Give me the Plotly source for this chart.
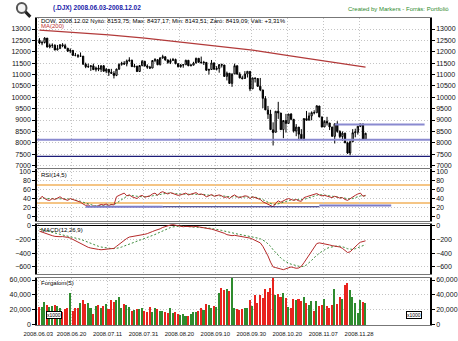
import plotly.graph_objects as go

W, H = 458, 341

# ---- trading days (Dow Jones Industrial Average, daily) ----
dates = [
    "2008.06.03", "2008.06.04", "2008.06.05", "2008.06.06", "2008.06.09", "2008.06.10", "2008.06.11", "2008.06.12",
    "2008.06.13", "2008.06.16", "2008.06.17", "2008.06.18", "2008.06.19", "2008.06.20", "2008.06.23", "2008.06.24",
    "2008.06.25", "2008.06.26", "2008.06.27", "2008.06.30",
    "2008.07.01", "2008.07.02", "2008.07.03", "2008.07.07", "2008.07.08", "2008.07.09", "2008.07.10", "2008.07.11",
    "2008.07.14", "2008.07.15", "2008.07.16", "2008.07.17", "2008.07.18", "2008.07.21", "2008.07.22", "2008.07.23",
    "2008.07.24", "2008.07.25", "2008.07.28", "2008.07.29", "2008.07.30", "2008.07.31",
    "2008.08.01", "2008.08.04", "2008.08.05", "2008.08.06", "2008.08.07", "2008.08.08", "2008.08.11", "2008.08.12",
    "2008.08.13", "2008.08.14", "2008.08.15", "2008.08.18", "2008.08.19", "2008.08.20", "2008.08.21", "2008.08.22",
    "2008.08.25", "2008.08.26", "2008.08.27", "2008.08.28", "2008.08.29",
    "2008.09.02", "2008.09.03", "2008.09.04", "2008.09.05", "2008.09.08", "2008.09.09", "2008.09.10", "2008.09.11",
    "2008.09.12", "2008.09.15", "2008.09.16", "2008.09.17", "2008.09.18", "2008.09.19", "2008.09.22", "2008.09.23",
    "2008.09.24", "2008.09.25", "2008.09.26", "2008.09.29", "2008.09.30",
    "2008.10.01", "2008.10.02", "2008.10.03", "2008.10.06", "2008.10.07", "2008.10.08", "2008.10.09", "2008.10.10",
    "2008.10.13", "2008.10.14", "2008.10.15", "2008.10.16", "2008.10.17", "2008.10.20", "2008.10.21", "2008.10.22",
    "2008.10.23", "2008.10.24", "2008.10.27", "2008.10.28", "2008.10.29", "2008.10.30", "2008.10.31",
    "2008.11.03", "2008.11.04", "2008.11.05", "2008.11.06", "2008.11.07", "2008.11.10", "2008.11.11", "2008.11.12",
    "2008.11.13", "2008.11.14", "2008.11.17", "2008.11.18", "2008.11.19", "2008.11.20", "2008.11.21", "2008.11.24",
    "2008.11.25", "2008.11.26", "2008.11.28",
    "2008.12.01", "2008.12.02",
]

opens = [
    12503, 12390, 12404, 12602, 12210, 12280, 12288, 12084, 12140, 12306,
    12269, 12159, 12029, 12062, 11843, 11842, 11808, 11810, 11452, 11346,
    11350, 11382, 11216, 11289, 11231, 11384, 11147, 11229, 11100, 11055,
    10962, 11239, 11446, 11496, 11467, 11603, 11632, 11349, 11370, 11132,
    11397, 11583, 11378, 11326, 11285, 11615, 11655, 11432, 11734, 11781,
    11642, 11532, 11616, 11659, 11479, 11348, 11417, 11430, 11628, 11387,
    11413, 11503, 11714, 11543, 11516, 11532, 11188, 11221, 11510, 11231,
    11268, 11434, 11420, 10918, 11057, 10609, 11027, 11388, 11015, 10854,
    10825, 11022, 11139, 10371, 10848, 10825, 10483, 10322, 9947, 9438,
    9262, 8568, 8462, 9388, 9310, 8577, 8980, 8852, 9265, 9033,
    8519, 8691, 8376, 8175, 9065, 8991, 9180, 9326, 9320, 9618,
    9139, 8696, 8944, 8870, 8693, 8282, 8831, 8497, 8273, 8424,
    7995, 7551, 8048, 8443, 8464, 8726, 8829, 8153.75,
]
highs = [
    12600, 12490, 12640, 12603, 12360, 12370, 12330, 12300, 12340, 12380,
    12350, 12160, 12150, 12070, 11950, 11900, 11970, 11810, 11520, 11480,
    11400, 11480, 11350, 11420, 11410, 11420, 11290, 11230, 11250, 11150,
    11260, 11490, 11560, 11590, 11660, 11760, 11650, 11470, 11380, 11420,
    11640, 11600, 11450, 11380, 11630, 11720, 11660, 11760, 11870, 11800,
    11660, 11700, 11730, 11700, 11480, 11460, 11460, 11650, 11630, 11460,
    11560, 11740, 11720, 11790, 11600, 11540, 11260, 11640, 11530, 11370,
    11460, 11480, 11420, 11130, 11060, 11050, 11480, 11390, 11100, 10950,
    11150, 11150, 11140, 10860, 10860, 10830, 10850, 10330, 10050, 9620,
    9450, 8900, 9390, 9800, 9310, 8990, 9270, 9270, 9300, 9035,
    8820, 8690, 8600, 9080, 9400, 9330, 9380, 9430, 9650, 9620,
    9140, 8990, 9140, 8870, 8700, 8850, 8950, 8550, 8500, 8440,
    8050, 8100, 8600, 8620, 8740, 8830, 8830, 8437.17,
]
lows = [
    12338, 12290, 12370, 12190, 12150, 12170, 12060, 12060, 12140, 12200,
    12140, 11990, 11940, 11830, 11800, 11730, 11790, 11440, 11280, 11290,
    11160, 11200, 11130, 11150, 11110, 11130, 11060, 10940, 11030, 10828,
    10930, 11200, 11390, 11420, 11360, 11560, 11330, 11310, 11120, 11130,
    11360, 11350, 11250, 11240, 11280, 11540, 11410, 11400, 11690, 11610,
    11470, 11460, 11600, 11450, 11310, 11300, 11300, 11430, 11370, 11360,
    11400, 11500, 11520, 11490, 11420, 11170, 11000, 11220, 11220, 11180,
    11080, 11310, 10900, 10740, 10590, 10460, 11020, 11010, 10830, 10780,
    10820, 10870, 10270, 10370, 10650, 10460, 10270, 9525, 9440, 9050,
    8570, 7882, 8460, 9050, 8570, 8200, 8450, 8850, 8990, 8450,
    8290, 8110, 8170, 8100, 8980, 8990, 8990, 9250, 9320, 9120,
    8680, 8690, 8760, 8560, 8270, 7970, 8440, 8200, 8080, 7990,
    7510, 7449, 8040, 8240, 8360, 8690, 8140, 8143.51,
]
closes = [
    12390, 12404, 12604, 12210, 12280, 12289, 12083, 12141, 12307, 12269,
    12160, 12029, 12063, 11843, 11842, 11807, 11811, 11453, 11346, 11350,
    11382, 11215, 11288, 11231, 11384, 11147, 11229, 11100, 11055, 10962,
    11239, 11446, 11496, 11467, 11603, 11632, 11349, 11370, 11131, 11397,
    11583, 11378, 11326, 11284, 11615, 11656, 11432, 11734, 11782, 11642,
    11532, 11616, 11659, 11479, 11348, 11417, 11430, 11628, 11387, 11413,
    11503, 11715, 11543, 11516, 11532, 11188, 11220, 11511, 11231, 11268,
    11434, 11421, 10918, 11059, 10610, 11020, 11388, 11016, 10854, 10825,
    11023, 11143, 10365, 10851, 10831, 10483, 10325, 9955, 9447, 9258,
    8579, 8451, 9387, 9311, 8578, 8979, 8852, 9265, 9034, 8519,
    8691, 8378, 8175, 9065, 8991, 9181, 9325, 9319, 9625, 9139,
    8695, 8943, 8870, 8694, 8283, 8835, 8497, 8273, 8425, 7997,
    7552, 8046, 8443, 8479, 8727, 8829, 8149, 8419.09,
]

# 200-day moving average, read at the labelled dates
ma200_dates = ["2008.06.03", "2008.06.20", "2008.07.11", "2008.07.31", "2008.08.20", "2008.09.10",
               "2008.09.30", "2008.10.20", "2008.11.07", "2008.11.28", "2008.12.02"]
ma200_values = [12950, 12860, 12740, 12600, 12430, 12260, 12070, 11830, 11590, 11370, 11330]

volume = [
    24000, 24000, 31000, 27000, 24000, 25000, 26000, 25000, 22000, 17000,
    21000, 23000, 43000, 18000, 22000, 23000, 30000, 34000, 28000, 30000,
    23000, 14000, 25000, 27000, 23000, 25000, 28000, 21000, 33000, 31000,
    34000, 38000, 22000, 28000, 26000, 24000, 19000, 20000, 21000, 21000,
    22000, 19000, 17000, 24000, 17000, 23000, 21000, 19000, 18000, 17000,
    16000, 22000, 16000, 17000, 14000, 13000, 14000, 12000, 12000, 14000,
    17000, 17000, 18000, 23000, 20000, 28000, 27000, 22000, 25000, 24000,
    43000, 50000, 47000, 49000, 46000, 66000, 22000, 21000, 20000, 21000,
    22000, 23000, 33000, 25000, 40000, 30000, 40000, 36000, 48000, 44000,
    50000, 66000, 40000, 42000, 37000, 43000, 36000, 24000, 23000, 35000,
    34000, 35000, 32000, 38000, 30000, 26000, 32000, 18000, 32000, 25000,
    26000, 35000, 25000, 22000, 26000, 48000, 28000, 37000, 35000, 54000,
    57000, 47000, 38000, 29000, 16000, 33000, 31000, 30000,
]

rsi = [
    38, 45, 40, 37, 36, 40, 38, 42, 44, 40,
    38, 36, 40, 38, 35, 33, 32, 28, 25, 26,
    22, 24, 22, 25, 27, 26, 28, 25, 27, 26,
    44, 47, 50, 52, 46, 48, 44, 42, 40, 45,
    47, 43, 44, 46, 50, 52, 47, 53, 55, 52,
    50, 53, 51, 49, 47, 48, 50, 52, 48, 50,
    51, 53, 49, 50, 48, 44, 46, 49, 45, 47,
    48, 46, 42, 44, 40, 45, 48, 44, 42, 44,
    46, 45, 40, 44, 42, 40, 38, 33, 30, 27,
    24, 22, 30, 35, 32, 36, 38, 40, 38, 36,
    38, 35, 34, 42, 44, 46, 48, 49, 51, 48,
    46, 47, 45, 44, 42, 45, 43, 41, 42, 38,
    36, 40, 44, 47, 50, 52, 45, 47,
]
rsi_signal = [
    40, 41, 41, 40, 40, 39, 39, 40, 40, 40,
    40, 39, 39, 38, 37, 36, 34, 32, 30, 28,
    26, 25, 24, 24, 24, 25, 26, 26, 27, 27,
    30, 34, 38, 42, 45, 47, 47, 46, 45, 44,
    44, 44, 44, 45, 46, 47, 48, 49, 51, 52,
    52, 52, 52, 51, 50, 50, 50, 50, 50, 50,
    50, 50, 50, 50, 49, 48, 47, 47, 47, 46,
    46, 46, 45, 45, 44, 44, 44, 44, 44, 44,
    44, 44, 44, 44, 43, 42, 40, 38, 35, 32,
    29, 27, 27, 28, 30, 32, 34, 36, 37, 37,
    37, 37, 37, 38, 40, 42, 44, 46, 48, 49,
    48, 48, 47, 46, 45, 44, 44, 43, 42, 41,
    40, 39, 40, 42, 44, 46, 46, 46,
]
rsi_bands = [70, 30]

macd = [
    -80, -95, -100, -120, -135, -145, -155, -160, -160, -158,
    -160, -170, -180, -200, -215, -235, -255, -280, -300, -315,
    -325, -335, -340, -345, -350, -348, -345, -342, -338, -330,
    -300, -270, -240, -210, -185, -165, -160, -155, -150, -140,
    -130, -125, -115, -105, -85, -70, -60, -45, -25, -10,
    0, 10, 15, 5, -5, -10, -15, -10, -15, -20,
    -15, -10, -15, -20, -25, -35, -45, -50, -60, -70,
    -80, -95, -110, -130, -140, -145, -140, -145, -150, -155,
    -165, -170, -180, -195, -210, -225, -250, -300, -360, -440,
    -530, -600, -610, -615, -630, -640, -630, -615, -600, -610,
    -620, -615, -590, -540, -480, -420, -360, -300, -260, -250,
    -255, -265, -270, -280, -290, -295, -300, -310, -330, -360,
    -390, -380, -340, -300, -270, -240, -230, -220,
]
macd_signal = [
    -50, -58, -65, -75, -85, -95, -105, -115, -125, -133,
    -140, -150, -158, -167, -175, -185, -198, -212, -228, -245,
    -260, -275, -288, -300, -310, -318, -325, -330, -333, -333,
    -330, -322, -310, -298, -285, -270, -255, -240, -225, -212,
    -200, -188, -175, -160, -145, -128, -110, -92, -75, -55,
    -40, -27, -17, -10, -7, -5, -8, -10, -10, -12,
    -14, -16, -18, -20, -25, -30, -35, -40, -45, -52,
    -60, -68, -78, -88, -98, -108, -115, -122, -128, -134,
    -140, -148, -155, -162, -170, -180, -190, -205, -230, -265,
    -300, -350, -395, -435, -470, -500, -525, -545, -560, -572,
    -582, -590, -595, -592, -570, -540, -505, -465, -430, -400,
    -375, -350, -330, -315, -305, -298, -295, -298, -305, -318,
    -335, -345, -345, -335, -320, -305, -290, -275,
]

# horizontal support / resistance levels in the price panel
support_levels = [8130, 7400]
resistance_level = 8800
resistance_from = "2008.11.13"
# support segments in the RSI panel: (level, first day, last day)
rsi_supports = [(22, "2008.06.27", "2008.08.11"), (22, "2008.08.11", "2008.11.05"), (25, "2008.11.05", "2008.12.02")]

tick_dates = ["2008.06.03", "2008.06.20", "2008.07.11", "2008.07.31", "2008.08.20", "2008.09.10",
              "2008.09.30", "2008.10.20", "2008.11.07", "2008.11.28"]

header = "DOW, 2008.12.02 Nyitó: 8153,75; Max: 8437,17; Min: 8143,51; Záró: 8419,09; Vált: +3,31%"

# ---------------------------------------------------------------
FONT = "Liberation Sans, Arial, sans-serif"
n = len(dates)
xi = list(range(n))
pos = {d: i for i, d in enumerate(dates)}


def px(x):
    return x / W


def py(y):
    return 1 - y / H


XDOM = [px(24), px(433)]
XRANGE = [-0.94, 152.1]
DOM_MAIN = [py(168), py(17.5)]
DOM_RSI = [py(222), py(169.5)]
DOM_MACD = [py(275), py(224.5)]
DOM_VOL = [py(327), py(279)]

RNG_MAIN = [6913, 13470]
RNG_RSI = [-9.3, 104.8]
RNG_MACD = [-697, 32]
RNG_VOL = [-1350, 63400]

GREEN = "#2e8b2e"
up = [c >= o for o, c in zip(opens, closes)]

fig = go.Figure()

# price candles
fig.add_trace(go.Candlestick(
    x=xi, open=opens, high=highs, low=lows, close=closes,
    increasing=dict(line=dict(color="black", width=1), fillcolor="white"),
    decreasing=dict(line=dict(color="black", width=1), fillcolor="black"),
    whiskerwidth=0, xaxis="x2", yaxis="y", showlegend=False, hoverinfo="skip",
))
fig.add_trace(go.Scatter(
    x=[pos[d] for d in ma200_dates], y=ma200_values, mode="lines",
    line=dict(color="#b23a3a", width=1.2), xaxis="x2", yaxis="y", showlegend=False,
))

# RSI
fig.add_trace(go.Scatter(x=xi, y=rsi_signal, mode="lines",
                         line=dict(color="#3c8c3c", width=1, dash="2px,2px"),
                         xaxis="x3", yaxis="y2", showlegend=False))
fig.add_trace(go.Scatter(x=xi, y=rsi, mode="lines", line=dict(color="#b52a2a", width=1),
                         xaxis="x3", yaxis="y2", showlegend=False))

# MACD
fig.add_trace(go.Scatter(x=xi, y=macd_signal, mode="lines",
                         line=dict(color="#3c8c3c", width=1, dash="2px,2px"),
                         xaxis="x4", yaxis="y3", showlegend=False))
fig.add_trace(go.Scatter(x=xi, y=macd, mode="lines", line=dict(color="#b52a2a", width=1),
                         xaxis="x4", yaxis="y3", showlegend=False))

# volume
fig.add_trace(go.Bar(x=xi, y=volume, width=0.6,
                     marker=dict(color=[GREEN if u else "#e8231e" for u in up], line=dict(width=0)),
                     xaxis="x", yaxis="y4", showlegend=False))

# empty traces so the right-hand mirror axes get drawn
for xa, ya in (("x2", "y5"), ("x3", "y6"), ("x4", "y7"), ("x", "y8")):
    fig.add_trace(go.Scatter(x=[], y=[], xaxis=xa, yaxis=ya, showlegend=False))

shapes = []
for lvl, col, wdt in ((support_levels[0], "#8a8ad0", 2), (support_levels[1], "#1c1c78", 1.2)):
    shapes.append(dict(type="line", xref="x2 domain", yref="y", x0=0, x1=1, y0=lvl, y1=lvl,
                       line=dict(color=col, width=wdt)))
shapes.append(dict(type="line", xref="x2", yref="y", x0=pos[resistance_from], x1=150,
                   y0=resistance_level, y1=resistance_level, line=dict(color="#8a8ad0", width=2)))
for lvl in rsi_bands:
    shapes.append(dict(type="line", xref="x3 domain", yref="y2", x0=0, x1=1, y0=lvl, y1=lvl,
                       line=dict(color="#f2b25c", width=1.5), layer="below"))
for k, (lvl, d0, d1) in enumerate(rsi_supports):
    thick = k != 1
    shapes.append(dict(type="line", xref="x3", yref="y2", x0=pos[d0], x1=pos[d1] + (10 if k == 2 else 0),
                       y0=lvl, y1=lvl,
                       line=dict(color="#7c7cc8" if thick else "#1c1c78", width=2 if thick else 1)))
fig.update_layout(shapes=shapes)

tickfont = dict(family=FONT, size=7, color="#111")
grid = dict(showgrid=True, gridcolor="#c4c4c4", griddash="1px,2px", gridwidth=1)
tickvals_x = [pos[d] - 0.5 for d in tick_dates]


def xaxis(anchor, labels):
    return dict(domain=XDOM, range=XRANGE, anchor=anchor, tickvals=tickvals_x, ticktext=tick_dates,
                showticklabels=labels, ticks="", tickangle=0, ticklabelstandoff=3,
                tickfont=dict(family=FONT, size=5.9, color="#111"),
                showline=True, mirror=True, linecolor="#777", linewidth=1, zeroline=False,
                rangeslider=dict(visible=False), fixedrange=True, **grid)


def yaxis(dom, rng, vals, fmt, anchor):
    return dict(domain=dom, range=rng, anchor=anchor, tickvals=vals, tickformat=fmt,
                ticks="outside", ticklen=3, tickcolor="black", tickfont=tickfont,
                showline=True, linecolor="black", linewidth=1.5, zeroline=False, **grid)


def ymirror(over, dom, rng, vals, fmt, anchor):
    return dict(domain=dom, range=rng, anchor=anchor, overlaying=over, side="right", tickvals=vals,
                tickformat=fmt, ticks="outside", ticklen=3, tickcolor="black", tickfont=tickfont,
                showline=True, linecolor="black", linewidth=1.5, showgrid=False, zeroline=False)


main_ticks = list(range(7000, 13001, 500))
rsi_ticks = [0, 20, 40, 60, 80, 100]
macd_ticks = [-600, -400, -200, 0]
vol_ticks = [0, 20000, 40000, 60000]

fig.update_layout(
    width=W, height=H, margin=dict(l=0, r=0, t=0, b=0),
    paper_bgcolor="white", plot_bgcolor="white", bargap=0, showlegend=False,
    xaxis=xaxis("y4", True), xaxis2=xaxis("y", False), xaxis3=xaxis("y2", False), xaxis4=xaxis("y3", False),
    yaxis=yaxis(DOM_MAIN, RNG_MAIN, main_ticks, "d", "x2"),
    yaxis2=yaxis(DOM_RSI, RNG_RSI, rsi_ticks, "d", "x3"),
    yaxis3=yaxis(DOM_MACD, RNG_MACD, macd_ticks, "d", "x4"),
    yaxis4=yaxis(DOM_VOL, RNG_VOL, vol_ticks, ",d", "x"),
    yaxis5=ymirror("y", DOM_MAIN, RNG_MAIN, main_ticks, "d", "x2"),
    yaxis6=ymirror("y2", DOM_RSI, RNG_RSI, rsi_ticks, "d", "x3"),
    yaxis7=ymirror("y3", DOM_MACD, RNG_MACD, macd_ticks, "d", "x4"),
    yaxis8=ymirror("y4", DOM_VOL, RNG_VOL, vol_ticks, ",d", "x"),
)
fig.update_layout(yaxis3=dict(zeroline=True, zerolinecolor="black", zerolinewidth=1))


def label(x, y, text, color="black", size=6.5, bold=False, anchor="left"):
    fig.add_annotation(x=px(x), y=py(y), xref="paper", yref="paper", text=f"<b>{text}</b>" if bold else text,
                       showarrow=False, xanchor=anchor, yanchor="middle",
                       font=dict(family=FONT, size=size, color=color))


label(39, 7, "(.DJX) 2008.06.03-2008.12.02", color="#1a1aa8", size=6.5, bold=True)
label(455, 8, "Created by Markers - Forrás: Portfolió", color="#2e8b2e", size=6, anchor="right")
label(26, 20.5, header, size=6)
label(26, 25.5, "MA(200)", color="#c03030", size=6)
label(26, 176, "RSI(14,5)", size=6)
label(26, 231, "MACD(12,26,9)", size=6)
label(26, 284, "Forgalom(5)", size=6)
for bx in (33, 425):
    fig.add_annotation(x=px(bx), y=py(321), xref="paper", yref="paper", text="x1000", showarrow=False,
                       font=dict(family=FONT, size=5, color="black"), bgcolor="white",
                       bordercolor="black", borderwidth=1, borderpad=0)

# magnifier icon
fig.add_shape(type="circle", xref="paper", yref="paper", x0=px(3), x1=px(13), y0=py(12), y1=py(2),
              line=dict(color="#555", width=2), fillcolor="#f4f4f4")
fig.add_shape(type="line", xref="paper", yref="paper", x0=px(12), x1=px(17), y0=py(11), y1=py(16),
              line=dict(color="#222", width=3))

fig.write_html("out.html")
